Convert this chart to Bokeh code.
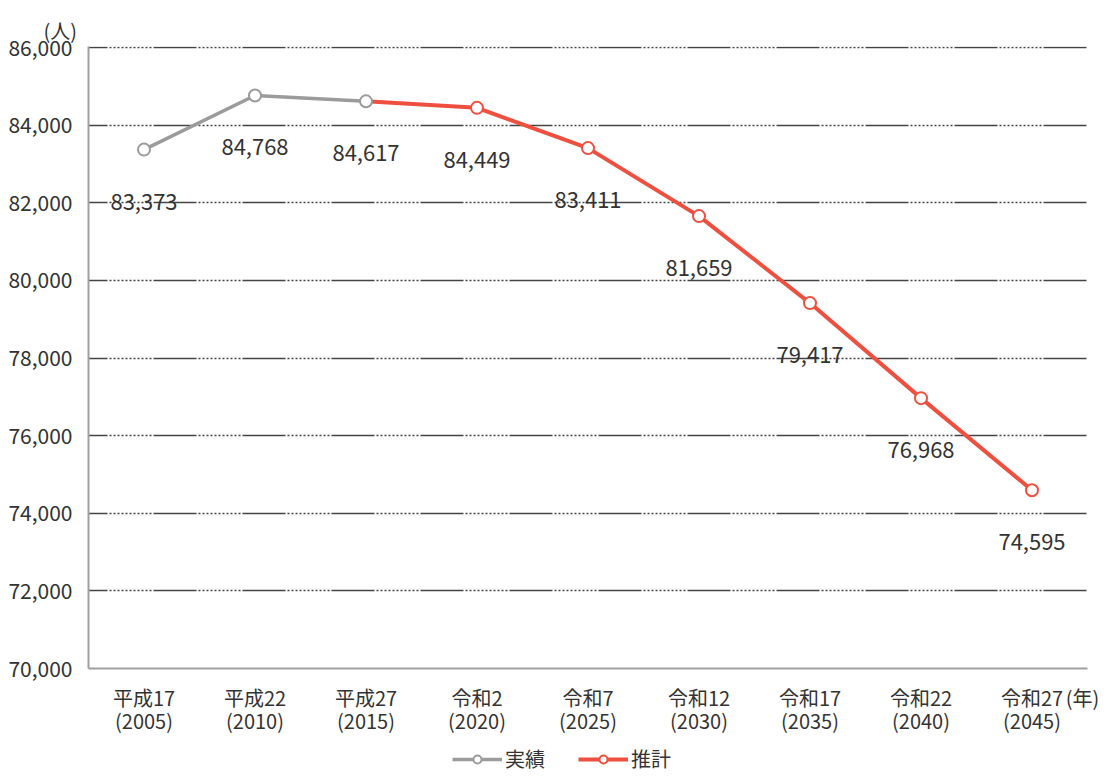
from bokeh.plotting import figure
from bokeh.models import (Range1d, FixedTicker, NumeralTickFormatter,
                          Legend, LegendItem)
from bokeh.layouts import column
from bokeh.core.properties import value
from bokeh.embed import file_html
from bokeh.resources import INLINE

# ---- data ----
categories = ["平成17\n(2005)", "平成22\n(2010)", "平成27\n(2015)", "令和2\n(2020)",
              "令和7\n(2025)", "令和12\n(2030)", "令和17\n(2035)", "令和22\n(2040)",
              "令和27\n(2045)"]
population = [83373, 84768, 84617, 84449, 83411, 81659, 79417, 76968, 74595]
actual_count = 3          # first three points are actual (実績); projection (推計) from 2015 onward
y_ticks = [70000, 72000, 74000, 76000, 78000, 80000, 82000, 84000, 86000]
series_names = ["実績", "推計"]
x_unit = "(年)"
y_unit = "(人)"

FONT = "Noto Sans CJK JP"
GRAY = "#9b9b9b"
RED = "#ef4f3e"
TXT = "#333333"

idx = list(range(len(categories)))
ax_x = idx[:actual_count]
ax_y = population[:actual_count]
pr_x = idx[actual_count - 1:]
pr_y = population[actual_count - 1:]

p = figure(width=1107, height=738,
           x_range=Range1d(-0.5, len(categories) - 0.5),
           y_range=Range1d(70000, 86030),
           output_backend="svg", toolbar_location=None,
           min_border_left=88, min_border_right=20,
           min_border_top=46, min_border_bottom=70)
p.outline_line_color = None
p.background_fill_color = "white"

# title used as the y-unit label
p.title.text = y_unit
p.title.align = "left"
p.title.offset = -45
p.title.text_font = FONT
p.title.text_font_size = "20px"
p.title.text_font_style = "normal"
p.title.text_color = TXT
p.title.standoff = 4

# axes
p.yaxis.ticker = FixedTicker(ticks=y_ticks)
p.yaxis.formatter = NumeralTickFormatter(format="0,0")
unit_pos = len(categories) - 1 + 0.455
p.xaxis.ticker = FixedTicker(ticks=idx + [unit_pos])
overrides = {i: c for i, c in zip(idx, categories)}
overrides[unit_pos] = x_unit
p.xaxis.major_label_overrides = overrides
for ax in (p.xaxis[0], p.yaxis[0]):
    ax.axis_line_color = "#a0a0a0"
    ax.axis_line_width = 2
    ax.major_tick_line_color = None
    ax.minor_tick_line_color = None
    ax.major_label_text_font = FONT
    ax.major_label_text_color = TXT
p.yaxis.major_label_text_font_size = "21px"
p.xaxis.major_label_text_font_size = "20px"
p.yaxis.major_label_standoff = 10
p.xaxis.major_label_standoff = 8
p.xaxis.major_label_text_line_height = 0.8

# grid
p.xgrid.visible = False
p.ygrid.ticker = FixedTicker(ticks=y_ticks[1:])
p.ygrid.grid_line_color = "#444444"
p.ygrid.grid_line_width = 1.5
p.ygrid.grid_line_dash = "43 2" + " 2 2" * 11
p.ygrid.grid_line_dash_offset = 24

# series
p.line(ax_x, ax_y, line_color=GRAY, line_width=3.5)
p.line(pr_x, pr_y, line_color=RED, line_width=4)
p.scatter(idx[actual_count:], population[actual_count:], size=12,
          fill_color="white", line_color=RED, line_width=2)
p.scatter(ax_x, ax_y, size=12, fill_color="white", line_color=GRAY, line_width=2)

# data labels
labels = [f"{v:,}" for v in population]
p.text(x=idx, y=population, text=labels, y_offset=52,
       text_align="center", text_baseline="middle",
       text_font=value(FONT), text_font_size="22px", text_color=TXT)

# ---- legend strip below the chart (same series; their marks fall outside this strip's ranges) ----
lg = figure(width=1107, height=40, x_range=Range1d(0, 1), y_range=Range1d(0, 1),
            output_backend="svg", toolbar_location=None,
            x_axis_type=None, y_axis_type=None, min_border=0)
lg.outline_line_color = None
lg.grid.visible = False
g_line = lg.line(ax_x, ax_y, line_color=GRAY, line_width=3.5)
g_mark = lg.scatter(ax_x, ax_y, size=12, fill_color="white", line_color=GRAY, line_width=2)
r_line = lg.line(pr_x, pr_y, line_color=RED, line_width=4)
r_mark = lg.scatter(pr_x, pr_y, size=12, fill_color="white", line_color=RED, line_width=2)

legend = Legend(items=[LegendItem(label=series_names[0], renderers=[g_line, g_mark]),
                       LegendItem(label=series_names[1], renderers=[r_line, r_mark])],
                orientation="horizontal", location=(364, 5),
                border_line_color=None, background_fill_alpha=0,
                label_text_font=FONT, label_text_font_size="20px", label_text_color=TXT,
                glyph_width=50, glyph_height=20, label_height=20, label_standoff=3,
                spacing=33, padding=0, margin=0)
lg.add_layout(legend)

layout = column(p, lg, spacing=0)
open("out.html", "w").write(file_html(layout, INLINE))
